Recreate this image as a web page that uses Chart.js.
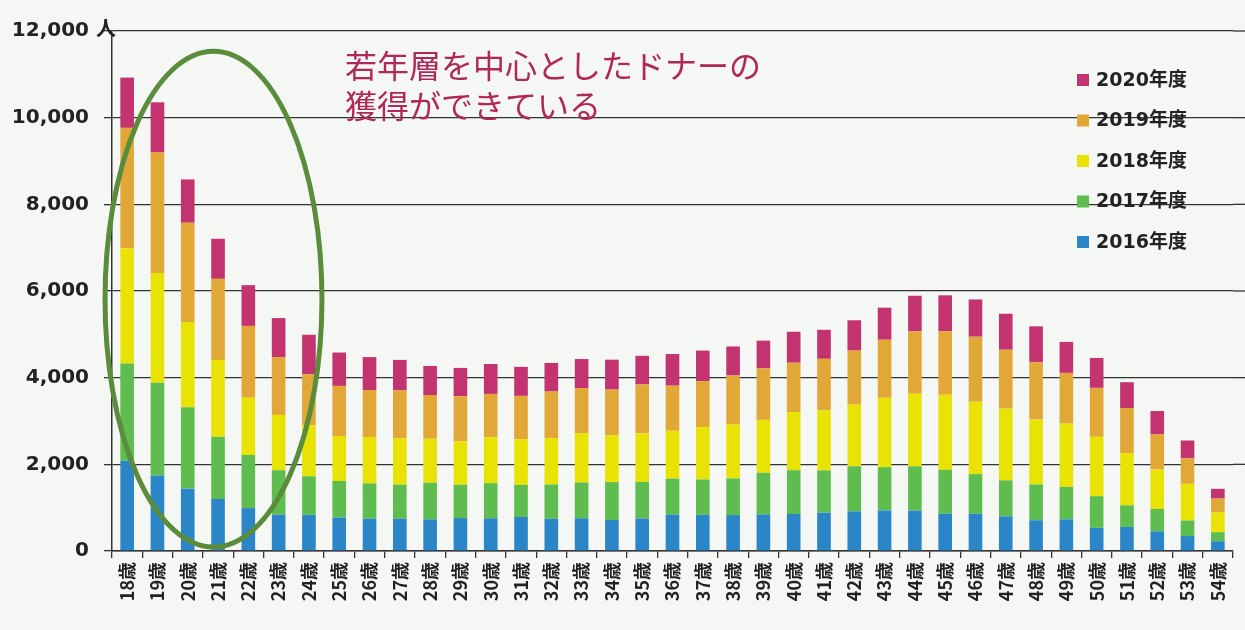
<!DOCTYPE html>
<html><head><meta charset="utf-8">
<script src="https://cdn.jsdelivr.net/npm/chart.js@4.4.1/dist/chart.umd.min.js"></script>
<style>html,body{margin:0;padding:0;background:#f5f7f4;}</style>
</head><body>
<canvas id="c" width="1245" height="630"></canvas>
<script>
const ages = ['18歳','19歳','20歳','21歳','22歳','23歳','24歳','25歳','26歳','27歳','28歳','29歳','30歳','31歳','32歳','33歳','34歳','35歳','36歳','37歳','38歳','39歳','40歳','41歳','42歳','43歳','44歳','45歳','46歳','47歳','48歳','49歳','50歳','51歳','52歳','53歳','54歳'];
const seriesNames = ['2016年度','2017年度','2018年度','2019年度','2020年度'];
const fy2016 = [2080,1740,1440,1200,990,840,835,770,745,745,730,760,755,785,745,755,715,750,840,835,830,845,855,885,915,935,930,860,860,800,710,730,535,555,455,345,225];
const fy2017 = [2245,2145,1875,1435,1225,1025,890,845,815,785,845,770,810,740,790,825,875,845,830,815,845,960,1010,975,1040,1000,1025,1015,915,830,825,750,730,500,515,360,210];
const fy2018 = [2660,2530,1970,1775,1320,1275,1180,1040,1070,1075,1015,1000,1060,1055,1070,1140,1085,1120,1105,1210,1245,1220,1340,1385,1425,1600,1675,1730,1670,1655,1500,1460,1370,1205,910,845,460];
const fy2019 = [2780,2780,2290,1870,1660,1335,1175,1155,1085,1100,1010,1040,1000,1000,1075,1040,1050,1130,1040,1060,1130,1190,1140,1190,1245,1340,1440,1465,1500,1360,1320,1170,1130,1040,810,590,315];
const fy2020 = [1160,1160,1000,925,940,900,910,770,760,705,670,655,690,670,660,670,690,660,730,705,670,640,715,670,700,740,820,830,860,830,830,715,690,595,540,410,225];
const seriesColors = ['#2b86c8','#5fbd4f','#e9e205','#e1a838','#c3336f'];
const yTickValues = [0,2000,4000,6000,8000,10000,12000];
const unitLabel = '人';
const noteLines = ['若年層を中心としたドナーの','獲得ができている'];

const seriesValues = [fy2016, fy2017, fy2018, fy2019, fy2020];
const datasets = seriesNames.map((n,i)=>({
  label:n, data:seriesValues[i], backgroundColor:seriesColors[i],
  borderWidth:0, barPercentage:0.9, categoryPercentage:0.5
}));

const TXT = '#222';
const decor = {
  id:'decor',
  beforeDraw(chart){
    const c=chart.ctx; c.save(); c.fillStyle='#f5f7f4'; c.fillRect(0,0,chart.width,chart.height); c.restore();
  },
  afterDraw(chart){
    const c=chart.ctx, ca=chart.chartArea, x=chart.scales.x, y=chart.scales.y;
    c.save();
    c.strokeStyle='#333'; c.lineWidth=1.3;
    yTickValues.forEach(v=>{ if(v===0) return; const py=y.getPixelForValue(v);
      c.beginPath(); c.moveTo(ca.right,py); c.lineTo(chart.width,py); c.stroke(); });
    c.fillStyle=TXT; c.font="bold 20px 'Noto Sans CJK JP'"; c.textBaseline='middle'; c.textAlign='left';
    c.fillText(unitLabel, ca.left-16, y.getPixelForValue(12000)-3);
    const x1=x.getPixelForValue(-0.73), x2=x.getPixelForValue(6.43);
    const y1=y.getPixelForValue(11530), y2=y.getPixelForValue(90);
    c.strokeStyle='#5a8c3c'; c.lineWidth=5;
    c.beginPath(); c.ellipse((x1+x2)/2,(y1+y2)/2,(x2-x1)/2,(y2-y1)/2,0,0,Math.PI*2); c.stroke();
    c.fillStyle='#b02858'; c.font="32px 'Noto Sans CJK JP'"; c.textAlign='left'; c.textBaseline='middle';
    const tx=x.getPixelForValue(7.19);
    c.fillText(noteLines[0], tx, y.getPixelForValue(11190));
    c.fillText(noteLines[1], tx, y.getPixelForValue(10270));
    c.font="bold 19px 'DejaVu Sans','Noto Sans CJK JP'"; c.textBaseline='middle';
    const lx=ca.right-156;
    for(let k=0;k<datasets.length;k++){
      const d=datasets[datasets.length-1-k];
      const cy=80+k*40.5;
      c.fillStyle=d.backgroundColor; c.fillRect(lx,cy-6,12,12);
      c.fillStyle=TXT; c.fillText(d.label, lx+19, cy+1);
    }
    c.restore();
  }
};

new Chart(document.getElementById('c'),{
  type:'bar',
  data:{labels:ages, datasets},
  options:{
    responsive:false, animation:false,
    layout:{padding:{top:31,right:12,left:0,bottom:0}},
    plugins:{legend:{display:false}, tooltip:{enabled:false}},
    scales:{
      x:{stacked:true, offset:true,
        grid:{offset:true, drawOnChartArea:false, drawTicks:true, tickLength:7, color:'#333', lineWidth:1.3},
        border:{display:true, color:'#333', width:1.5},
        ticks:{minRotation:90, maxRotation:90, autoSkip:false, padding:4, color:TXT,
          font:{family:"'Noto Sans CJK JP'", weight:'bold', size:18}},
        afterFit(s){ s.height = 630-551; }
      },
      y:{stacked:true, min:0, max:12000,
        afterBuildTicks(s){ s.ticks = yTickValues.map(v=>({value:v})); },
        grid:{color:'#333', lineWidth:1.3, tickLength:8},
        border:{display:true, color:'#333', width:1.5},
        ticks:{padding:15, color:TXT, font:{family:"'DejaVu Sans'", weight:'bold', size:20},
          callback:v=>v.toLocaleString('en-US')},
        afterFit(s){ s.width = 112; }
      }
    }
  },
  plugins:[decor]
});
</script>
</body></html>
